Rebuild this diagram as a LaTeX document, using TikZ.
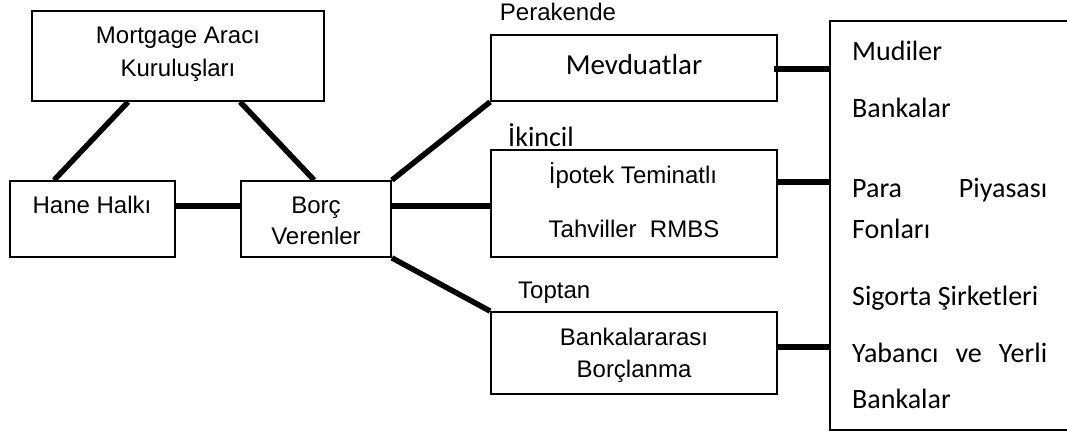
\documentclass[tikz,border=0pt]{standalone}
\usepackage{fontspec}
\setmainfont{Liberation Sans}
\newfontfamily\calibri{Carlito}
\usetikzlibrary{positioning}
\tikzset{
  box/.style={draw=black,line width=1.8pt,inner sep=0pt},
  link/.style={line width=5.5pt},
  arialtext/.style={inner sep=0pt,anchor=base,font=\fontsize{24}{28}\selectfont},
  calitext/.style={inner sep=0pt,anchor=base west,font=\calibri\fontsize{28}{32}\selectfont},
}
\begin{document}
\begin{tikzpicture}[x=1pt,y=-1pt]
  \useasboundingbox (0,0) rectangle (1067,432);
  % kutular
  \node[box,minimum width=292pt,minimum height=90pt] (mort) at (178,56) {};
  \node[box,minimum width=165pt,minimum height=76pt] (hane) at (92.5,219) {};
  \node[box,minimum width=150pt,minimum height=76pt] (borc) at (316,219) {};
  \node[box,minimum width=286pt,minimum height=66pt] (mevd) at (634,68) {};
  \node[box,minimum width=286pt,minimum height=107pt] (ipot) at (634,203.5) {};
  \node[box,minimum width=286pt,minimum height=82pt] (bank) at (634,353) {};
  \node[inner sep=0pt,minimum width=237pt,minimum height=409pt] (yat) at (948.5,225.5) {};
  \draw[line width=1.8pt] (yat.north east) -- (yat.north west) -- (yat.south west) -- (yat.south east);
  % kutu yazilari
  \node[arialtext] (mort1) at (178,43) {Mortgage Aracı};
  \node[arialtext] (mort2) at (178,76) {Kuruluşları};
  \node[arialtext] (hanet) at (92,213) {Hane Halkı};
  \node[arialtext] (borc1) at (316,213) {Borç};
  \node[arialtext] (borc2) at (316,244) {Verenler};
  \node[arialtext] (perak) at (558,20) {Perakende};
  \node[arialtext,font=\calibri\fontsize{29}{32}\selectfont] (mevdt) at (634,74) {Mevduatlar};
  \node[calitext] (ikinc) at (508,146) {İkincil};
  \node[arialtext] (ipot1) at (633,183) {İpotek Teminatlı};
  \node[arialtext] (ipot2) at (634,237) {Tahviller~~RMBS};
  \node[arialtext,anchor=base west] (topt) at (518,298) {Toptan};
  \node[arialtext] (bank1) at (634,345) {Bankalararası};
  \node[arialtext] (bank2) at (634,377) {Borçlanma};
  % yatirimcilar
  \node[calitext] (yat1) at (852,60) {Mudiler};
  \node[calitext] (yat2) at (852,117) {Bankalar};
  \node[calitext] (yat3) at (852,197) {\makebox[195pt][s]{Para Piyasası}};
  \node[calitext] (yat4) at (852,238) {Fonları};
  \node[calitext] (yat5) at (852,305) {Sigorta Şirketleri};
  \node[calitext] (yat6) at (852,362) {\makebox[195pt][s]{Yabancı ve Yerli}};
  \node[calitext] (yat7) at (852,408) {Bankalar};
  % baglantilar
  \draw[link] ([xshift=97pt]mort.south west) -- ([xshift=45pt]hane.north west);
  \draw[link] ([xshift=209pt]mort.south west) -- ([xshift=74pt]borc.north west);
  \draw[link] (hane.east |- 0,206) -- (borc.west |- 0,206);
  \draw[link] (borc.north east) -- (mevd.south west);
  \draw[link] (borc.east |- 0,206) -- (ipot.west |- 0,206);
  \draw[link] (borc.south east) -- (bank.north west);
  \draw[link] ([xshift=-4pt]mevd.east |- 0,69) -- (yat.west |- 0,69);
  \draw[link] (ipot.east |- 0,182) -- (yat.west |- 0,182);
  \draw[link] (bank.east |- 0,347) -- (yat.west |- 0,347);
\end{tikzpicture}
\end{document}
